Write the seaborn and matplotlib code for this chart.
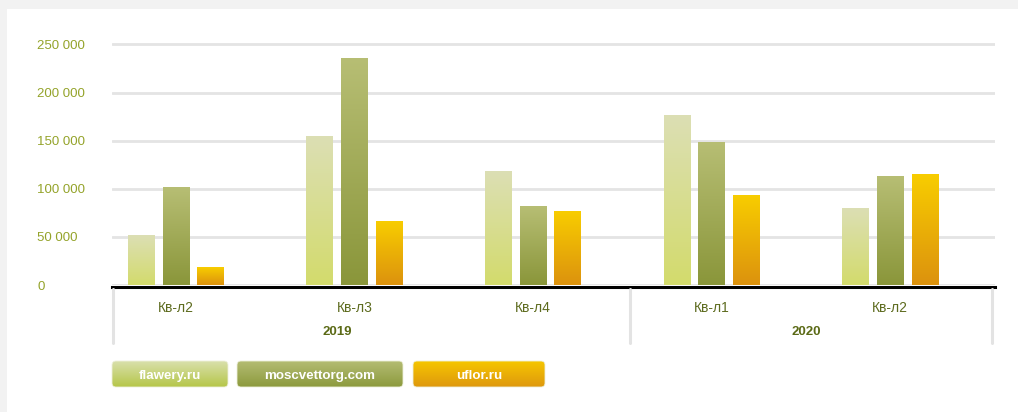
import matplotlib.pyplot as plt
import matplotlib.transforms as mtransforms
import numpy as np
import pandas as pd
import seaborn as sns
from matplotlib.colors import LinearSegmentedColormap
from matplotlib.lines import Line2D
from matplotlib.patches import FancyBboxPatch, Rectangle

# data
periods = ['2019 Кв-л2', '2019 Кв-л3', '2019 Кв-л4', '2020 Кв-л1', '2020 Кв-л2']
quarter_labels = ['Кв-л2', 'Кв-л3', 'Кв-л4', 'Кв-л1', 'Кв-л2']
years = ['2019', '2020']
sites = ['flawery.ru', 'moscvettorg.com', 'uflor.ru']
flawery = [51000, 154000, 118000, 176000, 79000]
moscvettorg = [101000, 235000, 82000, 148000, 113000]
uflor = [18000, 65500, 76500, 93000, 115000]
yticks = [0, 50000, 100000, 150000, 200000, 250000]

# bar gradients (bottom, top) and legend gradients (bottom, top)
bar_grad = {'flawery.ru': ('#d3db6c', '#dcdfb4'),
            'moscvettorg.com': ('#8a963a', '#b7be74'),
            'uflor.ru': ('#dc920e', '#f8cd00')}
legend_grad = {'flawery.ru': ('#b5c648', '#d9e0ac'),
               'moscvettorg.com': ('#8c9a3e', '#b4bc72'),
               'uflor.ru': ('#de980e', '#f6c600')}

df = pd.DataFrame({
    'period': periods * 3,
    'site': np.repeat(sites, len(periods)),
    'value': flawery + moscvettorg + uflor,
})

sns.set_style('white')
plt.rcParams['font.family'] = ['Liberation Sans', 'DejaVu Sans']

W, H = 1018, 412
fig = plt.figure(figsize=(W / 100, H / 100), dpi=100, facecolor='#f2f2f2')
fig.patches.append(Rectangle((7 / W, 0), 1, 1 - 9 / H, transform=fig.transFigure,
                             facecolor='white', edgecolor='none', zorder=-5))

# axes: 0 at y=285px, 0.9625 px per 1000
y0_px = 285
ymax = 255000
top_px = y0_px - ymax / 1000 * 0.9625
ax = fig.add_axes([112 / W, 1 - y0_px / H, (995 - 112) / W, (y0_px - top_px) / H])
ax.set_facecolor('none')

sns.barplot(data=df, x='period', y='value', hue='site', order=periods,
            hue_order=sites, palette={s: bar_grad[s][0] for s in sites},
            width=0.583, gap=0.237, legend=False, ax=ax)

xlim = (-0.357, 4.587)
ax.set_xlim(xlim)
ax.set_ylim(0, ymax)

grad = np.linspace(0, 1, 256).reshape(-1, 1)
for site, cont in zip(sites, ax.containers):
    cmap = LinearSegmentedColormap.from_list(site, bar_grad[site])
    for bar in cont:
        x, w, h = bar.get_x(), bar.get_width(), bar.get_height()
        ax.imshow(grad, extent=[x, x + w, 0, h], origin='lower', aspect='auto',
                  cmap=cmap, zorder=3)
        bar.set_visible(False)
ax.set_xlim(xlim)
ax.set_ylim(0, ymax)
ax.set_aspect('auto')

# grid and spines
ax.set_yticks(yticks, labels=[f'{v:,}'.replace(',', ' ') for v in yticks])
ax.yaxis.grid(True, color='#e4e4e4', linewidth=2.0)
ax.set_axisbelow(True)
for side in ['left', 'right', 'top']:
    ax.spines[side].set_visible(False)
ax.spines['bottom'].set_color('black')
ax.spines['bottom'].set_linewidth(2.2)
ax.spines['bottom'].set_position(('outward', 1.1))
ax.spines['bottom'].set_zorder(5)

ax.tick_params(axis='y', length=0, pad=54, labelsize=9.5, labelcolor='#94a32a')
for lbl in ax.get_yticklabels():
    lbl.set_horizontalalignment('left')
ax.set_xticks(range(len(periods)), labels=quarter_labels)
ax.tick_params(axis='x', length=0, pad=10.5, labelsize=10, labelcolor='#5d6b1e')
ax.set_xlabel('')
ax.set_ylabel('')

# cell borders under the axis
blend = mtransforms.blended_transform_factory(ax.transData, fig.transFigure)
for xd in [-0.349, 2.544, 4.57]:
    fig.add_artist(Line2D([xd, xd], [1 - 289 / H, 1 - 343 / H], transform=blend,
                          color='#e3e3e3', linewidth=2.2))
for yr, xd in zip(years, [0.903, 3.53]):
    fig.text(xd, 1 - 332 / H, yr, transform=blend, ha='center', va='center',
             fontsize=9.5, fontweight='bold', color='#5b6a16')

# legend buttons
lax = fig.add_axes([0, 0, 1, 1])
lax.set_xlim(0, W)
lax.set_ylim(H, 0)
lax.axis('off')
boxes = [(112, 228), (237, 403), (413, 545)]
for site, (x1, x2) in zip(sites, boxes):
    y1, y2 = 361, 387
    patch = FancyBboxPatch((x1, y1), x2 - x1, y2 - y1,
                           boxstyle='round,pad=0,rounding_size=4',
                           facecolor='none', edgecolor='#eef0dc', linewidth=0.6)
    lax.add_patch(patch)
    cmap = LinearSegmentedColormap.from_list(site + '_leg', legend_grad[site])
    im = lax.imshow(grad, extent=[x1, x2, y2, y1], origin='lower', aspect='auto',
                    cmap=cmap)
    im.set_clip_path(patch)
    lax.text((x1 + x2) / 2, 379, site, ha='center', va='baseline',
             color='white', fontsize=9.6, fontweight='bold')
lax.set_xlim(0, W)
lax.set_ylim(H, 0)

fig.savefig('out.png', dpi=100, facecolor=fig.get_facecolor())
